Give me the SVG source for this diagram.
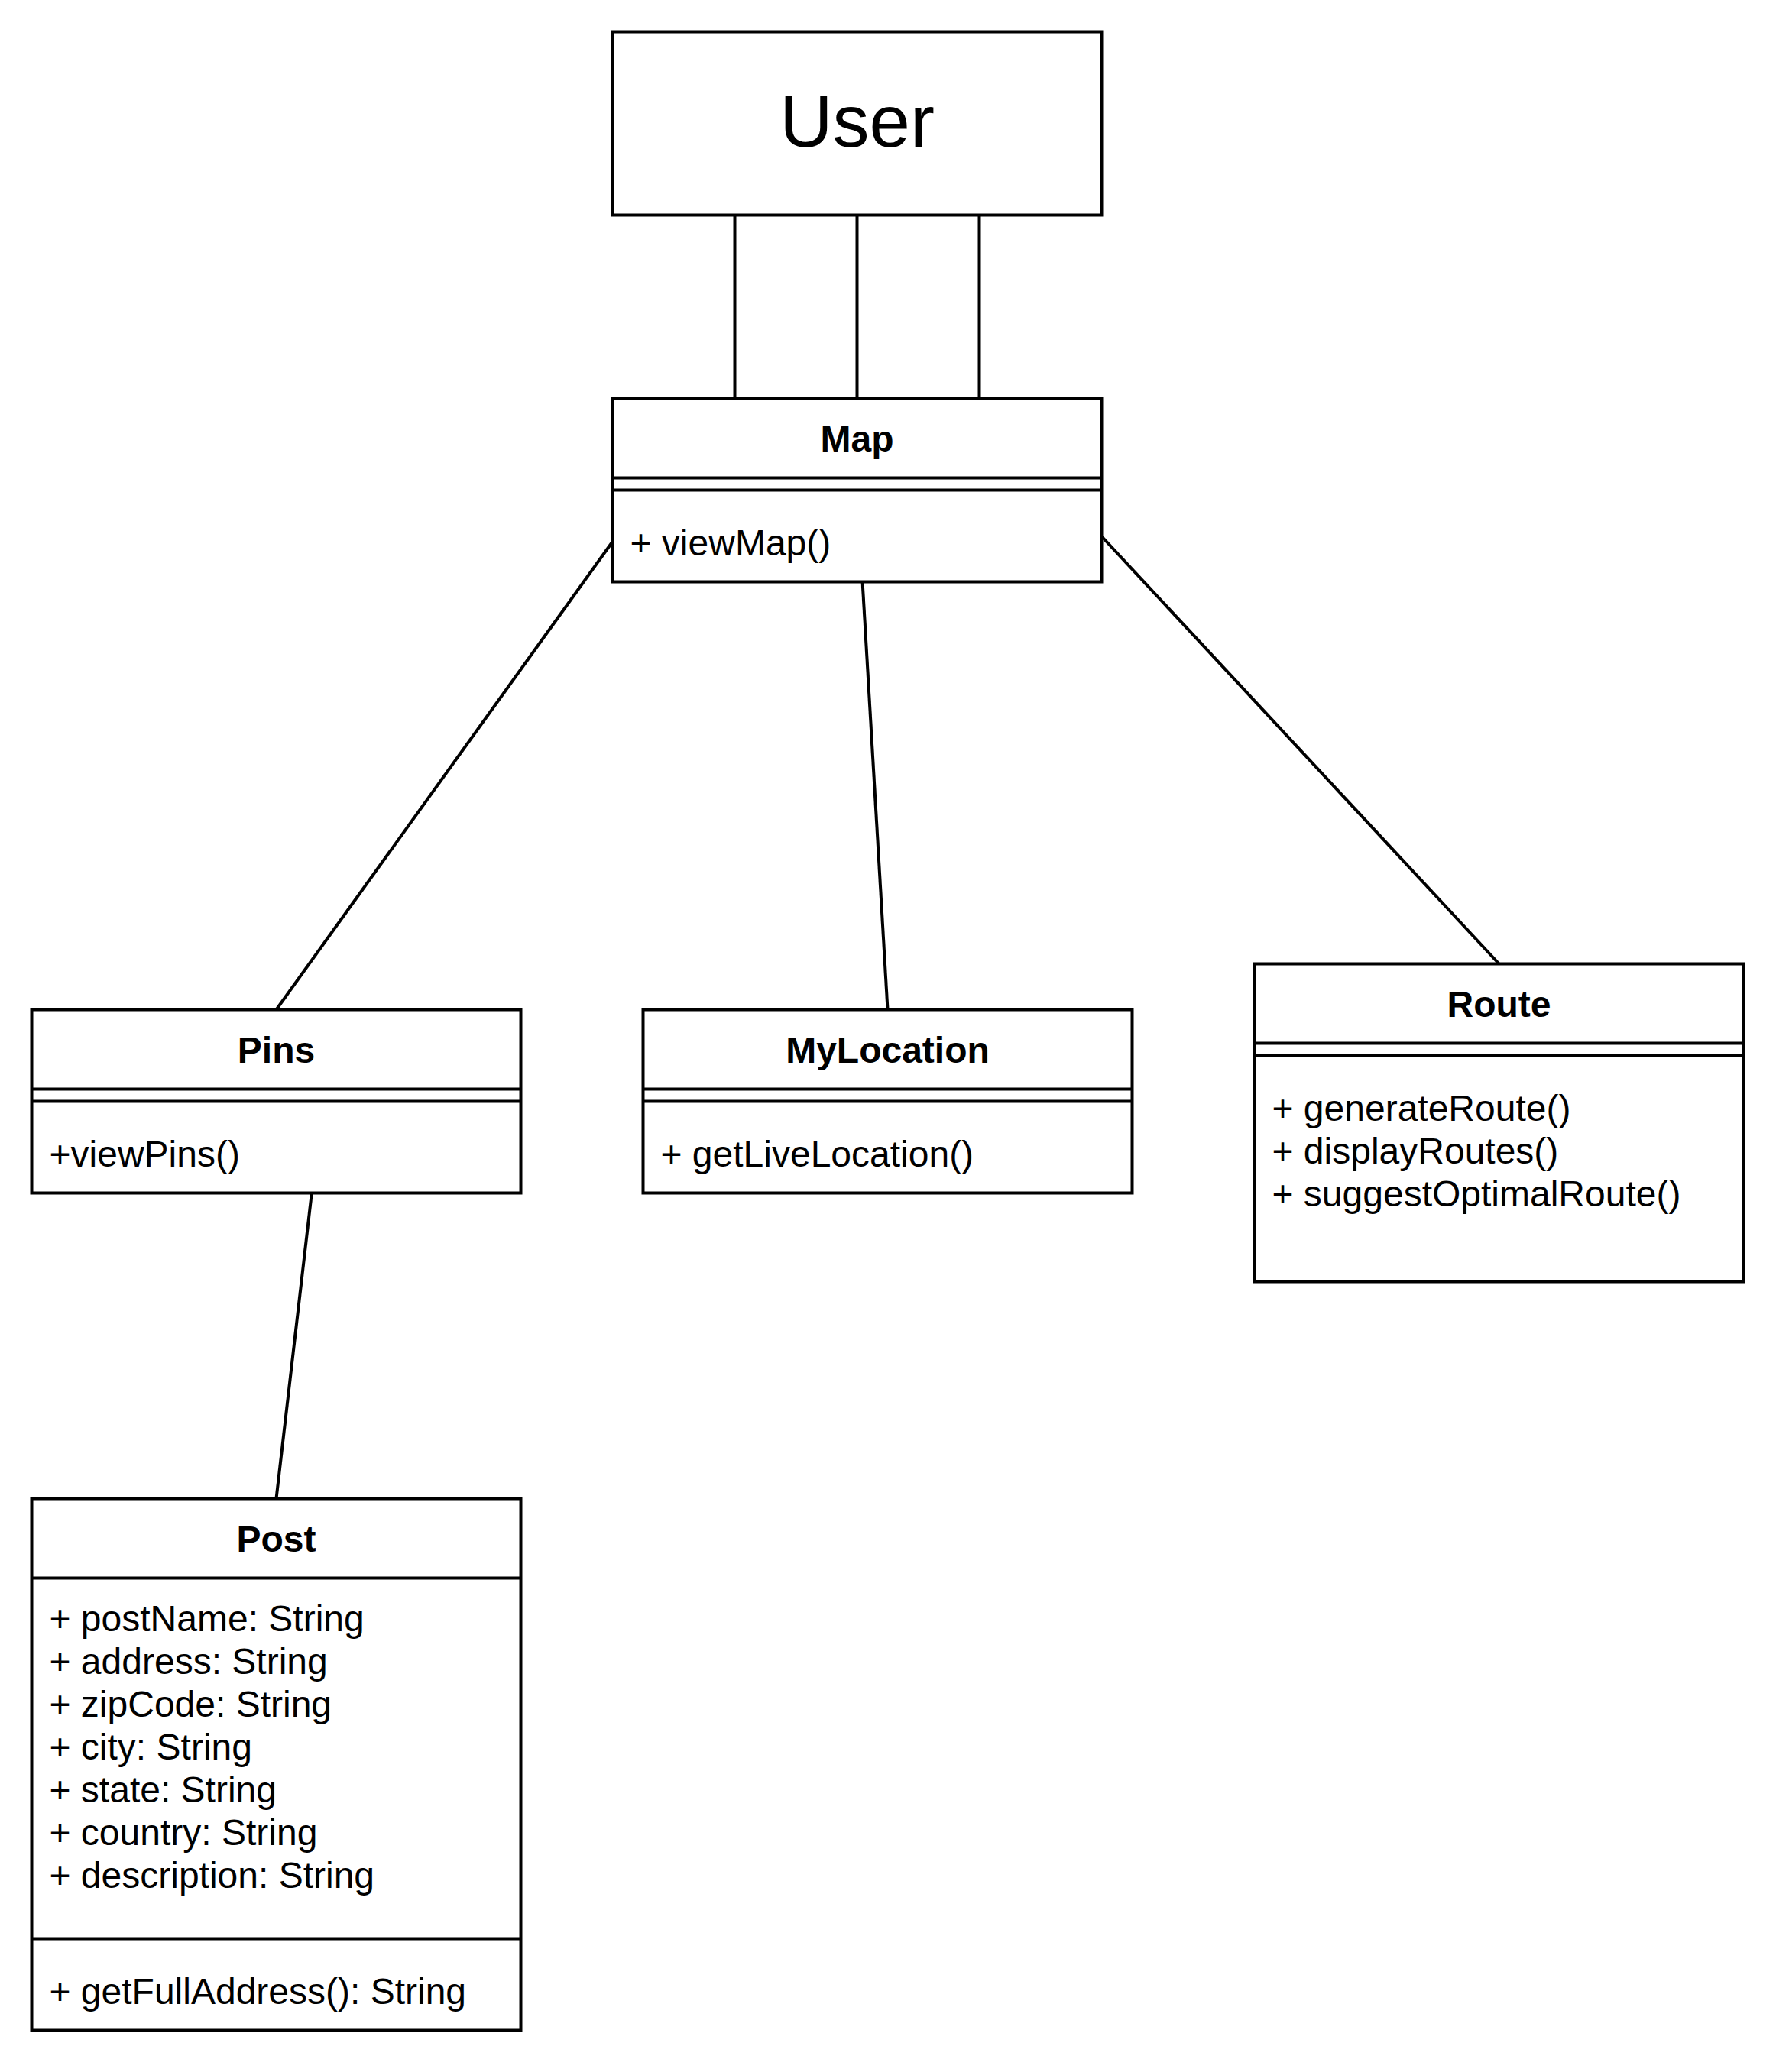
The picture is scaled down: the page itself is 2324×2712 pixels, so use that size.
<svg xmlns="http://www.w3.org/2000/svg" width="2324" height="2712" viewBox="0 0 2324 2712">
<style>
.box{fill:#fff;stroke:#000;stroke-width:4}
.ln{stroke:#000;stroke-width:4;fill:none}
.h{font-family:"Liberation Sans",Arial,sans-serif;font-size:48px;font-weight:bold;text-anchor:middle}
.m{font-family:"Liberation Sans",Arial,sans-serif;font-size:48px}
.u{font-family:"Liberation Sans",Arial,sans-serif;font-size:96px;text-anchor:middle}
</style>
<rect width="2324" height="2712" fill="#fff"/>
<g id="connectors">
<line class="ln" x1="961.5" y1="281.5" x2="961.5" y2="521.5"/>
<line class="ln" x1="1121.5" y1="281.5" x2="1121.5" y2="521.5"/>
<line class="ln" x1="1281.5" y1="281.5" x2="1281.5" y2="521.5"/>
<line class="ln" x1="801.5" y1="709" x2="361.5" y2="1321.5"/>
<line class="ln" x1="1128.5" y1="760" x2="1161.5" y2="1321.5"/>
<line class="ln" x1="1441.5" y1="702" x2="1961.5" y2="1261.5"/>
<line class="ln" x1="408.5" y1="1556" x2="361.5" y2="1961.5"/>
</g>
<g id="user">
<rect class="box" x="801.5" y="41.5" width="640" height="240"/>
<text class="u" x="1121.5" y="192">User</text>
</g>
<g id="map">
<rect class="box" x="801.5" y="521.5" width="640" height="240"/>
<line class="ln" x1="801.5" y1="625.5" x2="1441.5" y2="625.5"/>
<line class="ln" x1="801.5" y1="641.5" x2="1441.5" y2="641.5"/>
<text class="h" x="1121.5" y="591">Map</text>
<text class="m" x="824.5" y="727">+ viewMap()</text>
</g>
<g id="pins">
<rect class="box" x="41.5" y="1321.5" width="640" height="240"/>
<line class="ln" x1="41.5" y1="1425.5" x2="681.5" y2="1425.5"/>
<line class="ln" x1="41.5" y1="1441.5" x2="681.5" y2="1441.5"/>
<text class="h" x="361.5" y="1391">Pins</text>
<text class="m" x="64.5" y="1527">+viewPins()</text>
</g>
<g id="mylocation">
<rect class="box" x="841.5" y="1321.5" width="640" height="240"/>
<line class="ln" x1="841.5" y1="1425.5" x2="1481.5" y2="1425.5"/>
<line class="ln" x1="841.5" y1="1441.5" x2="1481.5" y2="1441.5"/>
<text class="h" x="1161.5" y="1391">MyLocation</text>
<text class="m" x="864.5" y="1527">+ getLiveLocation()</text>
</g>
<g id="route">
<rect class="box" x="1641.5" y="1261.5" width="640" height="416"/>
<line class="ln" x1="1641.5" y1="1365.5" x2="2281.5" y2="1365.5"/>
<line class="ln" x1="1641.5" y1="1381.5" x2="2281.5" y2="1381.5"/>
<text class="h" x="1961.5" y="1331">Route</text>
<text class="m" x="1664.5" y="1467">+ generateRoute()</text>
<text class="m" x="1664.5" y="1523">+ displayRoutes()</text>
<text class="m" x="1664.5" y="1579">+ suggestOptimalRoute()</text>
</g>
<g id="post">
<rect class="box" x="41.5" y="1961.5" width="640" height="696"/>
<line class="ln" x1="41.5" y1="2065.5" x2="681.5" y2="2065.5"/>
<line class="ln" x1="41.5" y1="2537.5" x2="681.5" y2="2537.5"/>
<text class="h" x="361.5" y="2031">Post</text>
<text class="m" x="64.5" y="2134.5">+ postName: String</text>
<text class="m" x="64.5" y="2190.5">+ address: String</text>
<text class="m" x="64.5" y="2246.5">+ zipCode: String</text>
<text class="m" x="64.5" y="2302.5">+ city: String</text>
<text class="m" x="64.5" y="2358.5">+ state: String</text>
<text class="m" x="64.5" y="2414.5">+ country: String</text>
<text class="m" x="64.5" y="2470.5">+ description: String</text>
<text class="m" x="64.5" y="2623">+ getFullAddress(): String</text>
</g>
</svg>
